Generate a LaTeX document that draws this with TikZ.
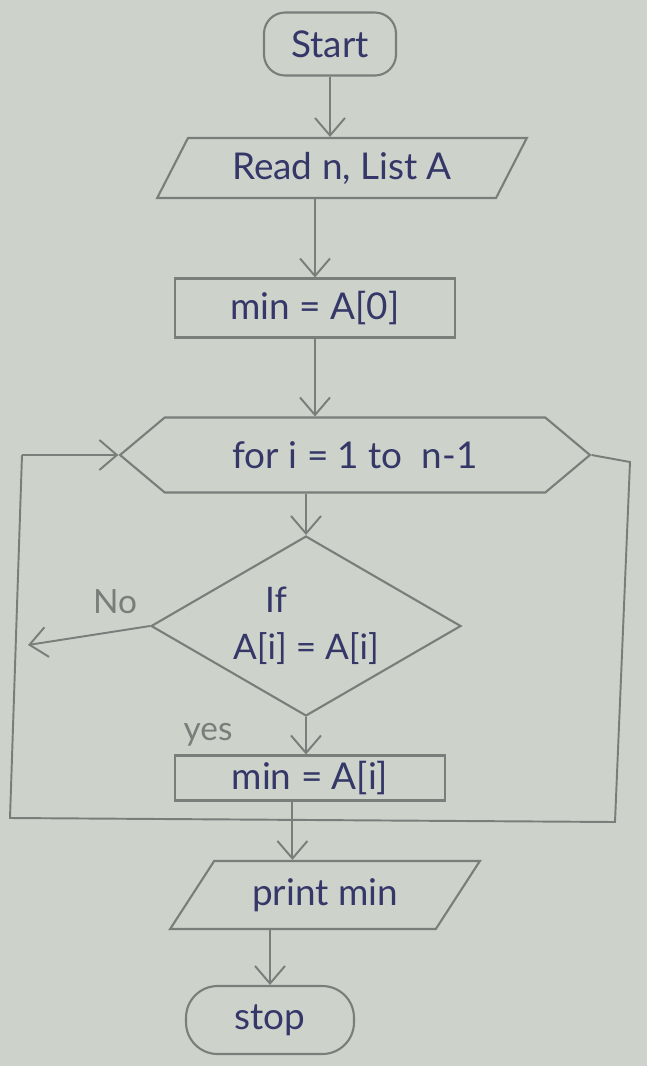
\documentclass[tikz,border=0pt]{standalone}
\usepackage{fontspec}
\setmainfont{Lato}
\usetikzlibrary{arrows.meta,shapes.geometric,shapes.symbols}
\definecolor{paper}{RGB}{205,211,203}
\definecolor{pencil}{RGB}{120,126,121}
\definecolor{ink}{RGB}{52,55,104}
\tikzset{
  box/.style={draw=pencil,line width=1.2pt,text=ink,inner sep=2pt,font=\fontsize{21}{25}\selectfont},
  term/.style={box,rectangle,rounded corners=12pt},
  inout/.style={box,trapezium,trapezium stretches=true,trapezium left angle=#1,trapezium right angle=180-#1},
  proc/.style={box,rectangle},
  loopbox/.style={box,signal,signal to=west and east,signal pointer angle=80},
  dec/.style={box,diamond,align=center,inner sep=0pt,shape aspect=1.72,font=\fontsize{20}{27}\selectfont},
  flow/.style={draw=pencil,line width=1.1pt,-{Straight Barb[length=3.5mm,width=6mm]}},
  wire/.style={draw=pencil,line width=1.1pt},
  note/.style={text=pencil,font=\fontsize{19}{23}\selectfont}
}

\begin{document}
\begin{tikzpicture}[x=0.02cm,y=-0.02cm]
\fill[paper] (0,0) rectangle (647,1066);
\useasboundingbox (0,0) rectangle (647,1066);

% the steps, top to bottom
\node[term,minimum width=2.64cm,minimum height=1.26cm] (start) at (330,44) {Start};
\node[inout=60,minimum width=7.4cm,minimum height=1.2cm] (read) at (342,168) {Read n, List A};
\node[proc,minimum width=5.6cm,minimum height=1.18cm] (min0) at (315,308) {min = A[0]};
\node[loopbox,minimum width=9.4cm,minimum height=1.5cm] (loop) at (355,455) {for i = 1 to \ n-1};
\node[dec,minimum width=6.2cm,minimum height=3.6cm] (cond) at (306,626) {If\hspace*{1.2cm}\\A[i] = A[i]};
\node[proc,minimum width=5.4cm,minimum height=0.9cm] (mini) at (310,778) {min = A[i]};
\node[inout=53,minimum width=6.2cm,minimum height=1.36cm] (print) at (325,895) {print min};
\node[term,rounded corners=18pt,minimum width=3.36cm,minimum height=1.36cm] (stop) at (270,1020) {stop};

% branch labels
\node[note] (nolbl) at (115,602) {No};
\node[note] (yeslbl) at (208,735) {yes};

% corners of the loop frame
\coordinate (rtop) at (630,462);
\coordinate (rbot) at (615,822);
\coordinate (lbot) at (10,818);
\coordinate (ltop) at (22,455);
\coordinate (nohead) at (28,645);

\draw[flow] (start) -- (start |- read.north);
\draw[flow] (min0 |- read.south) -- (min0.north);
\draw[flow] (min0.south) -- (min0.south |- loop.north);
\draw[flow] (cond |- loop.south) -- (cond.north);
\draw[flow] (cond.south) -- (cond.south |- mini.north);
\draw[flow] (cond.west) -- (nohead);
\draw[wire] (loop.east) -- (rtop) -- (rbot) -- (lbot) -- (ltop);
\draw[flow] (ltop) -- (loop.west);
\draw[flow] ([xshift=-10pt]mini.south) -- ([xshift=-10pt]mini.south |- print.north);
\draw[flow] (stop |- print.south) -- (stop.north);
\end{tikzpicture}
\end{document}
